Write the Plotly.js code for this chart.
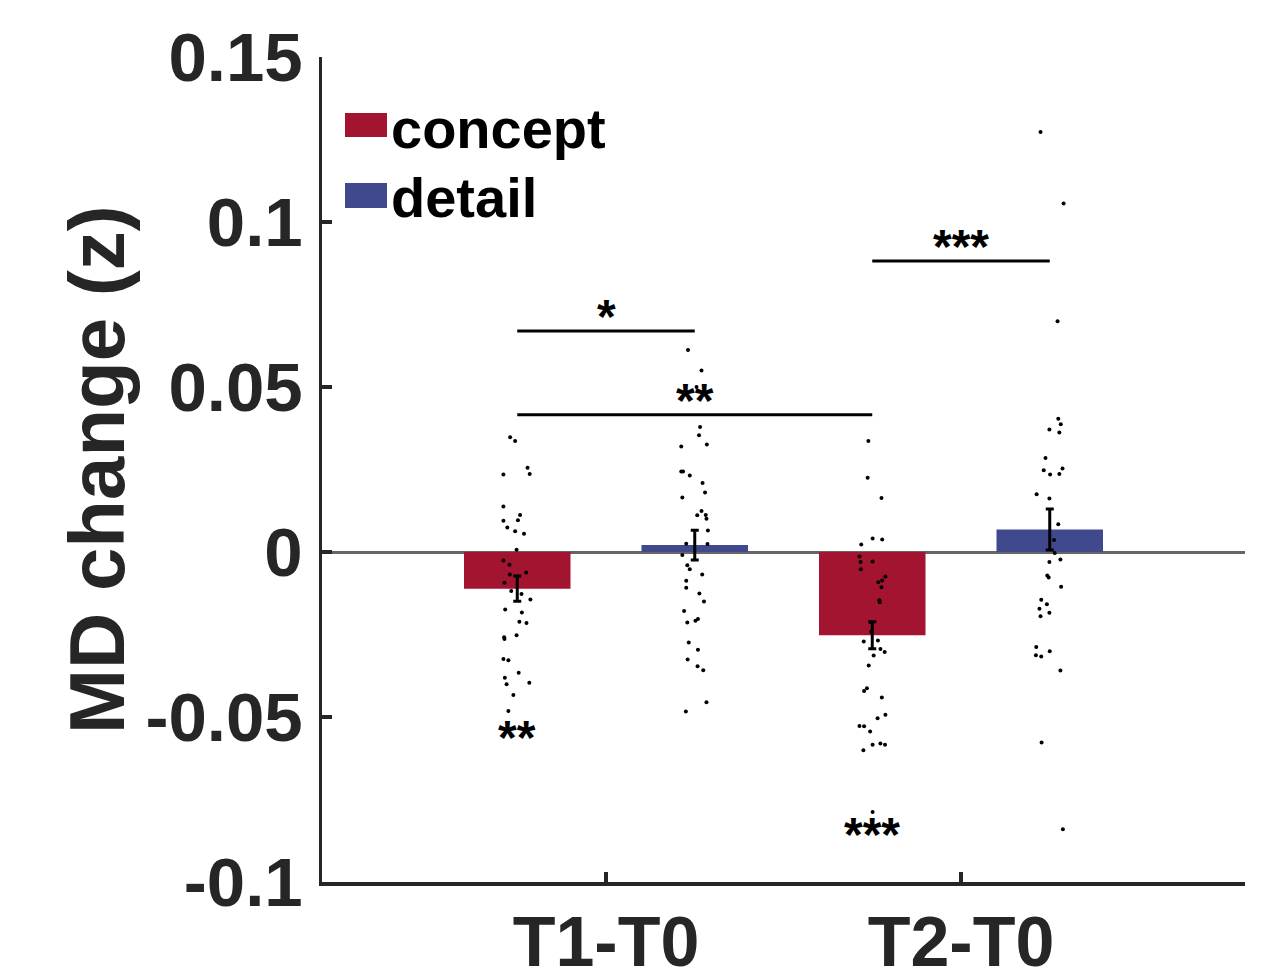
<!DOCTYPE html>
<html>
<head>
<meta charset="utf-8">
<script src="https://cdn.plot.ly/plotly-3.0.1.min.js"></script>
<style>html,body{margin:0;padding:0;background:#fff;}#chart{width:1272px;height:970px;}</style>
</head>
<body>
<div id="chart"></div>
<script>
// ---- data ----
const categories = ['T1-T0', 'T2-T0'];
const seriesNames = ['concept', 'detail'];
const conceptMean = [-0.0111, -0.0252];
const conceptSEM = [0.0038, 0.0041];
const detailMean = [0.0021, 0.0068];
const detailSEM = [0.0045, 0.0062];

const conceptT1Vals = [0.0348, 0.0336, 0.0235, 0.0255, 0.0236, 0.0138, 0.0112, 0.0095, 0.0096, 0.0074, 0.0063, 0.0055, 0.0007, -0.0026, -0.0039, -0.0068, -0.0062, -0.0093, -0.0118, -0.0127, -0.0144, -0.0174, -0.0183, -0.0211, -0.0215, -0.0258, -0.0264, -0.0252, -0.0324, -0.0328, -0.0366, -0.0381, -0.0401, -0.0396, -0.0433, -0.0482];
const conceptT1Jit = [-0.020, -0.006, -0.039, 0.029, 0.035, -0.039, 0.008, -0.039, 0.002, -0.028, -0.006, 0.019, -0.002, -0.039, -0.022, -0.021, 0.025, -0.036, -0.017, 0.012, 0.037, -0.034, 0.013, 0.006, 0.026, -0.037, -0.036, -0.002, -0.039, -0.025, 0.004, -0.035, -0.030, 0.034, -0.011, -0.025];

const detailT1Vals = [0.0612, 0.0550, 0.0500, 0.0379, 0.0354, 0.0326, 0.0320, 0.0244, 0.0244, 0.0232, 0.0209, 0.0180, 0.0165, 0.0124, 0.0111, 0.0112, 0.0101, 0.0065, 0.0025, 0.0024, -0.0009, -0.0040, -0.0052, -0.0068, -0.0087, -0.0108, -0.0126, -0.0150, -0.0179, -0.0214, -0.0208, -0.0203, -0.0274, -0.0296, -0.0326, -0.0346, -0.0358, -0.0455, -0.0483];
const detailT1Jit = [-0.019, 0.019, 0.005, 0.015, 0.012, 0.034, -0.038, -0.038, -0.033, -0.014, 0.022, 0.029, -0.035, 0.019, 0.007, 0.031, 0.033, 0.037, -0.024, 0.036, -0.035, -0.021, -0.014, 0.021, -0.024, -0.024, 0.013, 0.026, -0.030, -0.021, 0.002, 0.009, -0.017, 0.009, -0.020, 0.008, 0.024, 0.033, -0.025];

const conceptT2Vals = [0.0336, 0.0225, 0.0164, 0.0041, 0.0038, 0.0023, -0.0014, -0.0030, -0.0029, -0.0052, -0.0074, -0.0092, -0.0086, -0.0107, -0.0146, -0.0152, -0.0212, -0.0242, -0.0271, -0.0268, -0.0294, -0.0303, -0.0314, -0.0344, -0.0413, -0.0421, -0.0441, -0.0504, -0.0493, -0.0527, -0.0528, -0.0544, -0.0584, -0.0580, -0.0584, -0.0601, -0.0788];
const conceptT2Jit = [-0.011, -0.013, 0.026, 0.001, 0.028, -0.031, -0.036, -0.033, 0.001, -0.032, 0.037, 0.017, 0.028, 0.026, 0.020, 0.021, -0.005, -0.003, -0.024, 0.016, 0.023, 0.035, 0.004, -0.010, -0.015, -0.023, 0.027, 0.015, 0.037, -0.036, -0.023, -0.006, 0.001, 0.023, 0.036, -0.025, 0.001];

const detailT2Vals = [0.1273, 0.1056, 0.0699, 0.0404, 0.0371, 0.0387, 0.0362, 0.0285, 0.0248, 0.0235, 0.0253, 0.0236, 0.0175, 0.0162, 0.0084, 0.0036, -0.0003, -0.0030, -0.0023, -0.0071, -0.0077, -0.0105, -0.0145, -0.0158, -0.0172, -0.0184, -0.0195, -0.0288, -0.0301, -0.0313, -0.0317, -0.0359, -0.0577, -0.0840];
const detailT2Jit = [-0.026, 0.039, 0.022, 0.024, -0.001, 0.031, 0.027, -0.012, -0.017, 0.001, 0.036, 0.027, -0.037, -0.001, 0.024, 0.012, 0.014, -0.001, 0.030, -0.007, -0.003, 0.032, -0.024, -0.008, -0.029, -0.001, -0.026, -0.038, 0.000, -0.039, -0.024, 0.030, -0.023, 0.037];

// significance brackets: [series index, category index] pairs
const sigFrom = [[0, 0], [0, 0], [0, 1]];
const sigTo = [[1, 0], [0, 1], [1, 1]];
const sigLevel = [0.0670, 0.0416, 0.0882];
const sigText = ['*', '**', '***'];
// significance vs zero (below concept bars)
const zeroSigCat = [0, 1];
const zeroSigLevel = [-0.0546, -0.0840];
const zeroSigText = ['**', '***'];

const yTickVals = [-0.1, -0.05, 0, 0.05, 0.1, 0.15];
const yTickText = ['-0.1', '-0.05', '0', '0.05', '0.1', '0.15'];

// ---- styles & layout helpers ----
const FONT = 'Liberation Sans, Arial, sans-serif';
const AX = '#262626';
const colors = ['#A2142F', '#40498D'];
const offset = [-0.25, 0.25];
const barW = 0.3;
const catX = categories.map((c, i) => i + 1);
const pos = (s, c) => catX[c] + offset[s];

const means = [conceptMean, detailMean];
const sems = [conceptSEM, detailSEM];

const traces = [];
seriesNames.forEach((name, s) => {
  traces.push({
    type: 'bar', name: name,
    x: catX.map((_, c) => pos(s, c)), y: means[s], width: barW,
    marker: {color: colors[s], line: {width: 0}},
    error_y: {type: 'data', array: sems[s], visible: true, color: '#000', thickness: 3, width: 4},
    showlegend: false, hoverinfo: 'skip'
  });
});
const dotGroups = [
  [0, 0, conceptT1Vals, conceptT1Jit],
  [1, 0, detailT1Vals, detailT1Jit],
  [0, 1, conceptT2Vals, conceptT2Jit],
  [1, 1, detailT2Vals, detailT2Jit]
];
dotGroups.forEach(([s, c, vals, jit]) => {
  traces.push({
    type: 'scatter', mode: 'markers',
    x: jit.map(j => pos(s, c) + j), y: vals,
    marker: {color: '#000', size: 4, line: {width: 0}},
    showlegend: false, hoverinfo: 'skip'
  });
});

const shapes = [];
const annotations = [];
const starFont = {family: FONT, size: 48, color: '#000', weight: 'bold'};
const starShift = -5;
sigLevel.forEach((lv, i) => {
  const x0 = pos(sigFrom[i][0], sigFrom[i][1]);
  const x1 = pos(sigTo[i][0], sigTo[i][1]);
  shapes.push({type: 'line', xref: 'x', yref: 'y', x0: x0, x1: x1, y0: lv, y1: lv,
    line: {color: '#000', width: 3}});
  annotations.push({xref: 'x', yref: 'y', x: (x0 + x1) / 2, y: lv, text: sigText[i],
    showarrow: false, xanchor: 'center', yanchor: 'middle', yshift: 19 + starShift, font: starFont});
});
zeroSigLevel.forEach((lv, i) => {
  annotations.push({xref: 'x', yref: 'y', x: pos(0, zeroSigCat[i]), y: lv, text: zeroSigText[i],
    showarrow: false, xanchor: 'center', yanchor: 'middle', yshift: starShift, font: starFont});
});

// custom legend (paper coords); plot area: x 322..1245, y 57..882 px
const L = 322, R = 1245, T = 57, B = 882;
const px = v => (v - L) / (R - L);
const py = v => (B - v) / (B - T);
const legRows = [[113, 137, 128.6], [183, 208, 197.3]];
seriesNames.forEach((name, s) => {
  const r = legRows[s];
  shapes.push({type: 'rect', xref: 'paper', yref: 'paper', x0: px(345), x1: px(387), y0: py(r[1]), y1: py(r[0]),
    fillcolor: colors[s], line: {width: 0}});
  annotations.push({xref: 'paper', yref: 'paper', x: px(389), y: py(r[2]), text: name, showarrow: false,
    xanchor: 'left', yanchor: 'middle', font: {family: FONT, size: 56, color: '#000', weight: 'bold'}});
});
// y axis title
annotations.push({xref: 'paper', yref: 'paper', x: px(97), y: py(470), text: 'MD change (z)', textangle: -90,
  showarrow: false, xanchor: 'center', yanchor: 'middle', font: {family: FONT, size: 78, color: AX, weight: 'bold'}});

const layout = {
  width: 1272, height: 970,
  margin: {l: L, r: 1272 - R, t: T, b: 970 - B, pad: 0},
  paper_bgcolor: '#fff', plot_bgcolor: '#fff',
  barmode: 'overlay', showlegend: false,
  xaxis: {
    range: [0.2, 2.8], tickvals: catX, ticktext: categories,
    ticks: 'inside', ticklen: 10, tickwidth: 3.5, tickcolor: AX,
    showline: true, linewidth: 3.5, linecolor: AX, mirror: false,
    showgrid: false, zeroline: false, ticklabelstandoff: -4,
    tickfont: {family: FONT, size: 70, color: AX, weight: 'bold'}
  },
  yaxis: {
    range: [-0.1, 0.15], tickvals: yTickVals, ticktext: yTickText,
    ticks: 'inside', ticklen: 10, tickwidth: 3.5, tickcolor: AX,
    showline: true, linewidth: 3.5, linecolor: AX, mirror: false,
    showgrid: false, zeroline: true, zerolinecolor: '#666666', zerolinewidth: 3,
    ticklabelstandoff: 2,
    tickfont: {family: FONT, size: 69, color: AX, weight: 'bold'}
  },
  shapes: shapes, annotations: annotations
};

Plotly.newPlot('chart', traces, layout, {staticPlot: true, displayModeBar: false});
</script>
</body>
</html>
